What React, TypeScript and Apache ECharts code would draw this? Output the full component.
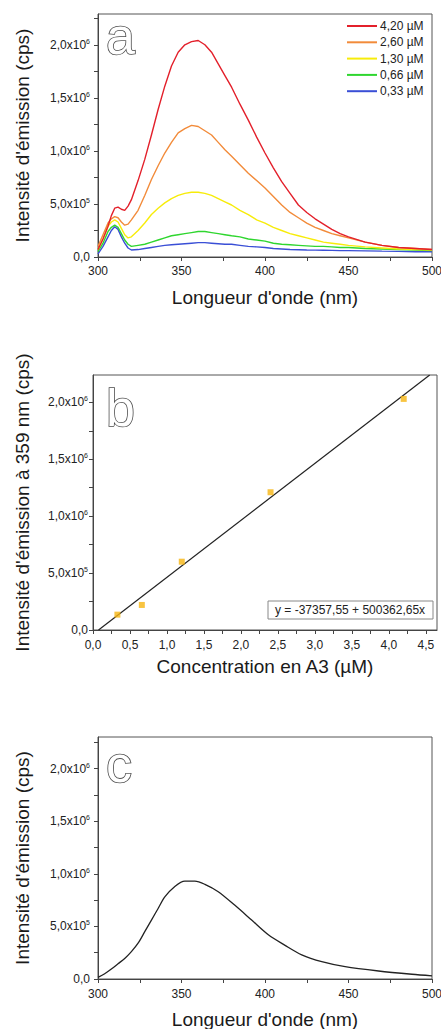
import React, { useEffect, useRef } from "react";
import * as echarts from "echarts";

// ---------- Panel a : emission spectra (values in 10^6 cps) ----------
const WAVELENGTHS = [300, 303, 306, 308, 310, 312, 314, 316, 318, 320, 324, 328, 332, 336, 340, 344, 348, 352, 356, 360, 364, 368, 372, 376, 380, 385, 390, 395, 400, 405, 410, 415, 420, 425, 430, 435, 440, 445, 450, 460, 470, 480, 490, 500];
const SERIES_NAMES = ["4,20 µM", "2,60 µM", "1,30 µM", "0,66 µM", "0,33 µM"];
const SERIES_COLORS = ["#e3202b", "#f28b3a", "#f7ec0a", "#2fd62f", "#3a4fd6"];
const I_420 = [0.07, 0.17, 0.29, 0.39, 0.46, 0.47, 0.45, 0.44, 0.48, 0.54, 0.72, 0.92, 1.15, 1.39, 1.61, 1.80, 1.93, 2.00, 2.03, 2.04, 2.00, 1.93, 1.82, 1.71, 1.60, 1.44, 1.29, 1.13, 0.98, 0.84, 0.71, 0.60, 0.49, 0.42, 0.36, 0.31, 0.26, 0.22, 0.19, 0.14, 0.11, 0.09, 0.08, 0.07];
const I_260 = [0.10, 0.21, 0.32, 0.36, 0.38, 0.37, 0.33, 0.30, 0.31, 0.35, 0.44, 0.58, 0.73, 0.86, 0.98, 1.08, 1.17, 1.21, 1.24, 1.23, 1.19, 1.15, 1.08, 1.01, 0.95, 0.87, 0.79, 0.72, 0.65, 0.57, 0.49, 0.42, 0.37, 0.32, 0.28, 0.25, 0.22, 0.20, 0.18, 0.14, 0.11, 0.09, 0.08, 0.07];
const I_130 = [0.07, 0.17, 0.29, 0.33, 0.35, 0.33, 0.27, 0.21, 0.18, 0.19, 0.25, 0.32, 0.40, 0.46, 0.51, 0.55, 0.58, 0.60, 0.61, 0.61, 0.60, 0.58, 0.55, 0.52, 0.49, 0.44, 0.40, 0.35, 0.32, 0.28, 0.25, 0.22, 0.20, 0.18, 0.16, 0.14, 0.13, 0.12, 0.11, 0.095, 0.085, 0.075, 0.07, 0.065];
const I_066 = [0.05, 0.13, 0.24, 0.28, 0.30, 0.28, 0.22, 0.16, 0.12, 0.10, 0.11, 0.12, 0.14, 0.16, 0.18, 0.20, 0.21, 0.22, 0.23, 0.24, 0.24, 0.23, 0.22, 0.21, 0.20, 0.19, 0.17, 0.16, 0.15, 0.13, 0.12, 0.115, 0.11, 0.105, 0.10, 0.10, 0.095, 0.09, 0.09, 0.08, 0.075, 0.07, 0.065, 0.06];
const I_033 = [0.03, 0.10, 0.19, 0.25, 0.285, 0.26, 0.19, 0.13, 0.085, 0.066, 0.07, 0.08, 0.09, 0.10, 0.11, 0.115, 0.12, 0.125, 0.13, 0.135, 0.135, 0.13, 0.125, 0.12, 0.12, 0.11, 0.10, 0.095, 0.09, 0.08, 0.075, 0.07, 0.068, 0.066, 0.065, 0.064, 0.062, 0.06, 0.06, 0.058, 0.055, 0.053, 0.05, 0.05];
const SPECTRA = [I_420, I_260, I_130, I_066, I_033];

// ---------- Panel b : calibration ----------
const CALIB_CONC = [0.33, 0.66, 1.2, 2.4, 4.2];
const CALIB_INT = [0.135, 0.22, 0.60, 1.21, 2.03]; // 10^6 cps
const FIT_INTERCEPT = -37357.55;
const FIT_SLOPE = 500362.65;
const FIT_LABEL = "y = -37357,55 + 500362,65x";

// ---------- Panel c : single spectrum ----------
const C_WAVELENGTHS = [300, 304, 308, 312, 316, 320, 324, 328, 332, 336, 340, 346, 352, 358, 364, 372, 382, 392, 402, 412, 422, 434, 448, 468, 488, 500];
const C_INT = [0.016, 0.05, 0.095, 0.145, 0.195, 0.26, 0.34, 0.45, 0.56, 0.67, 0.78, 0.88, 0.93, 0.93, 0.90, 0.83, 0.70, 0.56, 0.42, 0.32, 0.23, 0.165, 0.117, 0.076, 0.045, 0.03];

// ---------- Tick values ----------
const WL_LABELS = [300, 350, 400, 450, 500];
const WL_TICKS = [300, 325, 350, 375, 400, 425, 450, 475, 500];
const INT_LABELS = [0, 5e5, 1e6, 1.5e6, 2e6];
const INT_TICKS = [0, 2.5e5, 5e5, 7.5e5, 1e6, 1.25e6, 1.5e6, 1.75e6, 2e6, 2.25e6];
const CONC_LABELS = [0, 0.5, 1, 1.5, 2, 2.5, 3, 3.5, 4, 4.5];
const CONC_TICKS = [0, 0.25, 0.5, 0.75, 1, 1.25, 1.5, 1.75, 2, 2.25, 2.5, 2.75, 3, 3.25, 3.5, 3.75, 4, 4.25, 4.5];

const MEGA = 1e6;
const FONT = "'Liberation Sans', Arial, Helvetica, sans-serif";

const sciFormat = (v: number) => {
  if (Math.abs(v) < 1e-9) return "{m|0,0}";
  const exp = Math.floor(Math.log10(v) + 1e-9);
  const mant = (v / Math.pow(10, exp)).toFixed(1).replace(".", ",");
  return `{m|${mant}x10}{s|${exp}}`;
};

const yAxisBase = (gridIndex: number, max: number, gap: number, margin: number, name: string) => ({
  type: "value",
  gridIndex,
  min: 0,
  max,
  name,
  nameLocation: "middle",
  nameGap: gap,
  nameTextStyle: { fontSize: 19, color: "#1a1a1a", fontFamily: FONT },
  axisLine: { show: true, lineStyle: { color: "#444", width: 1 } },
  axisTick: { show: true, inside: false, length: 4, customValues: INT_TICKS, lineStyle: { color: "#444" } },
  axisLabel: {
    customValues: INT_LABELS,
    margin,
    formatter: sciFormat,
    rich: {
      m: { fontSize: 12, color: "#222", fontFamily: FONT, lineHeight: 14 },
      s: { fontSize: 7, color: "#222", fontFamily: FONT, verticalAlign: "top", lineHeight: 8 },
    },
  },
  splitLine: { show: false },
});

const xAxisBase = (gridIndex: number, min: number, max: number, labels: number[], ticks: number[], gap: number, margin: number, name: string, fmt: (v: number) => string) => ({
  type: "value",
  gridIndex,
  min,
  max,
  name,
  nameLocation: "middle",
  nameGap: gap,
  nameTextStyle: { fontSize: 19, color: "#1a1a1a", fontFamily: FONT },
  axisLine: { show: true, onZero: false, lineStyle: { color: "#444", width: 1 } },
  axisTick: { show: true, inside: false, length: 4, customValues: ticks, lineStyle: { color: "#444" } },
  axisLabel: { customValues: labels, margin, fontSize: 12, color: "#222", fontFamily: FONT, formatter: fmt },
  splitLine: { show: false },
});

const letterStyle = (text: string) => ({
  text,
  fontSize: 52,
  fontFamily: FONT,
  fill: "#ffffff",
  stroke: "#4a4a4a",
  lineWidth: 1.6,
  verticalAlign: "middle",
});

export default function App() {
  const ref = useRef<HTMLDivElement>(null);

  useEffect(() => {
    if (!ref.current) return;
    const chart = echarts.init(ref.current, undefined, { renderer: "svg" });

    const bYMax = 2.24e6;
    const fitStartX = -FIT_INTERCEPT / FIT_SLOPE;
    const fitEndX = (bYMax - FIT_INTERCEPT) / FIT_SLOPE;

    const spectraSeries = SPECTRA.map((arr, i) => ({
      type: "line",
      name: SERIES_NAMES[i],
      xAxisIndex: 0,
      yAxisIndex: 0,
      symbol: "none",
      z: 10 - i,
      lineStyle: { color: SERIES_COLORS[i], width: 1.4 },
      itemStyle: { color: SERIES_COLORS[i] },
      data: WAVELENGTHS.map((w, j) => [w, arr[j] * MEGA]),
    }));

    const gridBox = { show: true, borderColor: "#555", borderWidth: 1, backgroundColor: "transparent", outerBoundsMode: "none", containLabel: false };

    chart.setOption({
      animation: false,
      backgroundColor: "#ffffff",
      textStyle: { fontFamily: FONT },
      grid: [
        { ...gridBox, left: 98, top: 14, width: 334, height: 243 },
        { ...gridBox, left: 93, top: 375, width: 344, height: 255 },
        { ...gridBox, left: 98, top: 737, width: 334, height: 242 },
      ],
      xAxis: [
        xAxisBase(0, 300, 500, WL_LABELS, WL_TICKS, 31, 8, "Longueur d'onde (nm)", (v) => String(v)),
        xAxisBase(1, 0, 4.65, CONC_LABELS, CONC_TICKS, 27, 9, "Concentration en A3 (µM)", (v) => v.toFixed(1).replace(".", ",")),
        xAxisBase(2, 300, 500, WL_LABELS, WL_TICKS, 31, 9, "Longueur d'onde (nm)", (v) => String(v)),
      ],
      yAxis: [
        yAxisBase(0, 2.29e6, 66, 8, "Intensité d'émission (cps)"),
        yAxisBase(1, bYMax, 61, 5, "Intensité d'émission à 359 nm (cps)"),
        yAxisBase(2, 2.3e6, 66, 8, "Intensité d'émission (cps)"),
      ],
      legend: {
        data: SERIES_NAMES,
        orient: "vertical",
        left: 347,
        top: 19,
        icon: "rect",
        itemWidth: 30,
        itemHeight: 2,
        itemGap: 2.3,
        padding: 0,
        textStyle: { fontSize: 12, lineHeight: 14, color: "#222", fontFamily: FONT, padding: [0, 0, 0, -2] },
      },
      series: [
        ...spectraSeries,
        {
          type: "line",
          name: "fit",
          xAxisIndex: 1,
          yAxisIndex: 1,
          symbol: "none",
          lineStyle: { color: "#222", width: 1.2 },
          data: [
            [fitStartX, FIT_INTERCEPT + FIT_SLOPE * fitStartX],
            [fitEndX, FIT_INTERCEPT + FIT_SLOPE * fitEndX],
          ],
          z: 2,
        },
        {
          type: "scatter",
          name: "points",
          xAxisIndex: 1,
          yAxisIndex: 1,
          symbol: "rect",
          symbolSize: 6,
          itemStyle: { color: "#f6b512" },
          data: CALIB_CONC.map((c, i) => [c, CALIB_INT[i] * MEGA]),
          z: 5,
        },
        {
          type: "line",
          name: "spectre",
          xAxisIndex: 2,
          yAxisIndex: 2,
          symbol: "none",
          smooth: 0.3,
          lineStyle: { color: "#222", width: 1.3 },
          data: C_WAVELENGTHS.map((w, j) => [w, C_INT[j] * MEGA]),
        },
      ],
      graphic: [
        { type: "text", x: 106, y: 36, z: 20, style: letterStyle("a") },
        { type: "text", x: 106, y: 408, z: 20, style: letterStyle("b") },
        { type: "text", x: 106, y: 764, z: 20, style: letterStyle("c") },
        { type: "rect", z: 20, shape: { x: 268, y: 601, width: 165, height: 18 }, style: { fill: "#fff", stroke: "#888", lineWidth: 1 } },
        { type: "text", x: 275, y: 610, z: 21, style: { text: FIT_LABEL, fontSize: 12, fontFamily: FONT, fill: "#222", verticalAlign: "middle" } },
      ],
    });

    return () => chart.dispose();
  }, []);

  return <div ref={ref} style={{ position: "absolute", left: 0, top: 0, width: 441, height: 1029 }} />;
}
